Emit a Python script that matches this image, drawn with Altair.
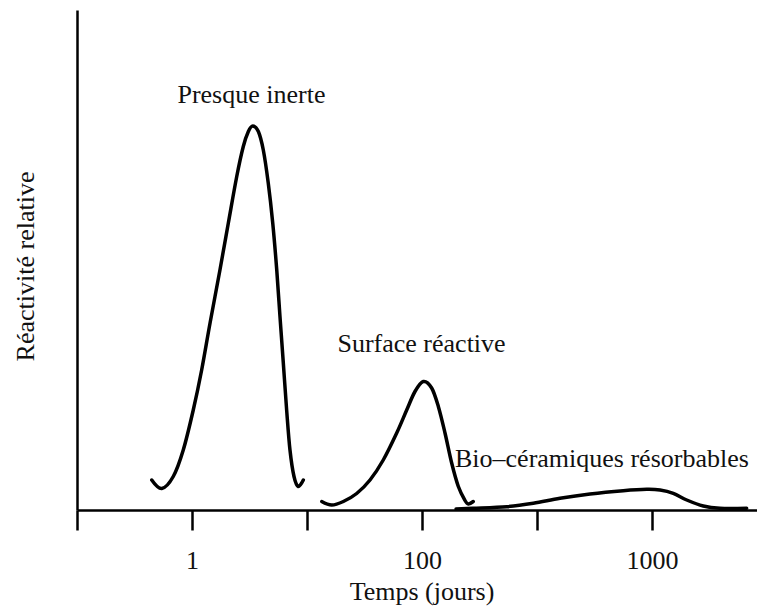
import altair as alt
import pandas as pd

# Curve points (x in tick units: 0..5, y in relative reactivity 0..100)
inerte_x = [0.650, 0.737, 0.837, 0.924, 1.011, 1.084, 1.157, 1.243, 1.316, 1.389, 1.446, 1.490, 1.528,
            1.577, 1.620, 1.663, 1.702, 1.737, 1.765, 1.794, 1.823, 1.852, 1.887, 1.924, 1.968]
inerte_y = [6.0, 4.3, 6.7, 12.0, 20.0, 28.0, 37.4, 48.0, 57.4, 66.7, 72.7, 75.7, 76.8,
            75.7, 72.0, 65.4, 57.4, 48.0, 38.7, 29.4, 20.0, 12.0, 6.7, 4.7, 6.0]

surface_x = [2.128, 2.215, 2.316, 2.432, 2.548, 2.663, 2.780, 2.867, 2.939, 3.011, 3.084, 3.142,
             3.200, 3.258, 3.316, 3.374, 3.403, 3.446]
surface_y = [1.7, 1.0, 1.7, 3.3, 6.0, 10.0, 15.4, 20.0, 23.7, 25.7, 24.4, 20.7,
             15.4, 9.4, 4.7, 1.9, 1.2, 1.7]

bio_x = [3.296, 3.446, 3.737, 3.968, 4.200, 4.461, 4.750, 4.954, 5.070, 5.185, 5.302, 5.446, 5.591, 5.823]
bio_y = [0.2, 0.34, 0.66, 1.34, 2.34, 3.2, 3.86, 4.14, 4.0, 3.34, 2.0, 0.8, 0.34, 0.34]

# Axis ticks and labels
tick_values = [0, 1, 2, 3, 4, 5]
tick_labels = ["", "1", "", "100", "", "1000"]

# Curve annotations
label_text = ["Presque inerte", "Surface réactive", "Bio–céramiques résorbables"]
label_x = [1.517, 2.996, 3.287]
label_y = [81.4, 31.6, 8.66]
label_align = ["center", "center", "left"]

rows = []
for name, xs, ys in [("inerte", inerte_x, inerte_y), ("surface", surface_x, surface_y), ("bio", bio_x, bio_y)]:
    for i, (a, b) in enumerate(zip(xs, ys)):
        rows.append({"series": name, "x": a, "y": b, "i": i})
curves = pd.DataFrame(rows)
labels = pd.DataFrame({"text": label_text, "x": label_x, "y": label_y, "align": label_align})

FONT = "Liberation Serif"
label_expr = " : ".join(
    f"datum.value == {v} ? '{t}'" for v, t in zip(tick_values, tick_labels)
) + " : ''"

xscale = alt.Scale(domain=[0, 680 / 115], nice=False, zero=False)
yscale = alt.Scale(domain=[0, 100], nice=False)

lines = alt.Chart(curves).mark_line(
    color="black", strokeWidth=3.5, interpolate="cardinal", strokeCap="round", strokeJoin="round"
).encode(
    x=alt.X("x:Q", scale=xscale, axis=alt.Axis(
        values=tick_values, labelExpr=label_expr, title="Temps (jours)",
        grid=False, tickSize=20, tickWidth=2.5, tickColor="black",
        domainColor="black", domainWidth=2.5,
        labelFont=FONT, labelFontSize=26, labelColor="#111", labelBaseline="alphabetic",
        labelPadding=38, labelFlush=False, labelOverlap=False,
        titleFont=FONT, titleFontSize=26, titleFontWeight="normal", titleColor="#111",
        titleX=344.5, titleY=89, titleBaseline="alphabetic", titleAlign="center")),
    y=alt.Y("y:Q", scale=yscale, axis=alt.Axis(
        ticks=False, labels=False, grid=False, domainColor="black", domainWidth=2.5,
        title="Réactivité relative", titleFont=FONT, titleFontSize=26,
        titleFontWeight="normal", titleColor="#111", titleAngle=-90,
        titleX=-44, titleY=256, titleBaseline="alphabetic", titleAlign="center")),
    detail="series:N",
    order="i:Q",
)

left_labels = alt.Chart(labels[labels["align"] == "center"]).mark_text(
    font=FONT, fontSize=26, color="#111", align="center", baseline="alphabetic"
).encode(x=alt.X("x:Q", scale=xscale), y=alt.Y("y:Q", scale=yscale), text="text:N")

right_labels = alt.Chart(labels[labels["align"] == "left"]).mark_text(
    font=FONT, fontSize=26, color="#111", align="left", baseline="alphabetic"
).encode(x=alt.X("x:Q", scale=xscale), y=alt.Y("y:Q", scale=yscale), text="text:N")

chart = alt.layer(lines, left_labels, right_labels).properties(
    width=680, height=500,
    autosize=alt.AutoSizeParams(type="none"),
    padding={"left": 77, "top": 10, "right": 0, "bottom": 98},
    background="white",
).configure_view(stroke=None)

chart.save("out.html", embed_options={"renderer": "svg", "actions": False})
